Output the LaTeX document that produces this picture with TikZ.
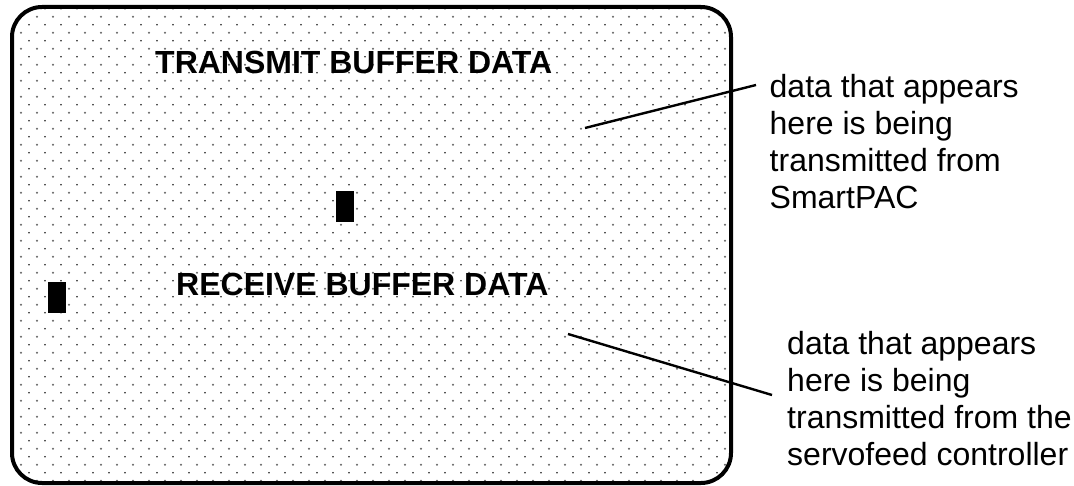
\documentclass[tikz,border=0pt]{standalone}
\usepackage{fontspec}
\setmainfont{Liberation Sans}
\begin{document}
\begin{tikzpicture}[x=1pt,y=-1pt,
  screen/.style={draw, line width=4pt, rounded corners=30pt, inner sep=0pt,
    minimum width=719pt, minimum height=476pt},
  title/.style={anchor=base west, inner sep=0pt, font=\fontsize{32}{37}\selectfont\bfseries},
  note/.style={anchor=north west, inner sep=0pt, align=left, font=\fontsize{32}{37}\selectfont},
  leader/.style={line width=2.4pt},
  cursor/.style={fill=black},
  dotA/.style={fill=black!60},
  dotB/.style={fill=black!90}]
\useasboundingbox (0,0) rectangle (1074,486);
% dotted background
\begin{scope}
  \clip[rounded corners=30pt] (12,7) rectangle (731,483);
  \foreach \j in {0,...,30}{
    \foreach \i in {0,...,45}{
      \fill[dotA] ({5+16*\i},{0.7+16*\j}) circle (1.1);
      \fill[dotB] ({13+16*\i},{8.7+16*\j}) circle (0.9);
    }
  }
\end{scope}
% screen frame
\node[screen] (scr) at (371.5,245) {};
% titles
\node[title] (tx) at (155,74) {TRANSMIT BUFFER DATA};
\node[title] (rx) at (176,296) {RECEIVE BUFFER DATA};
% cursors
\fill[cursor] (336,191) rectangle (354,222);
\fill[cursor] (48,282) rectangle (66,313);
% notes
\node[note] (n1) at (769.5,74.6) {data that appears\\here is being\\transmitted from\\SmartPAC};
\node[note] (n2) at (787,331.6) {data that appears\\here is being\\transmitted from the\\servofeed controller};
% leaders
\coordinate (a1) at (585,128);
\coordinate (b1) at (756,85);
\coordinate (a2) at (568,334);
\coordinate (b2) at (772,395);
\draw[leader] (a1) -- (b1);
\draw[leader] (a2) -- (b2);
\end{tikzpicture}
\end{document}
